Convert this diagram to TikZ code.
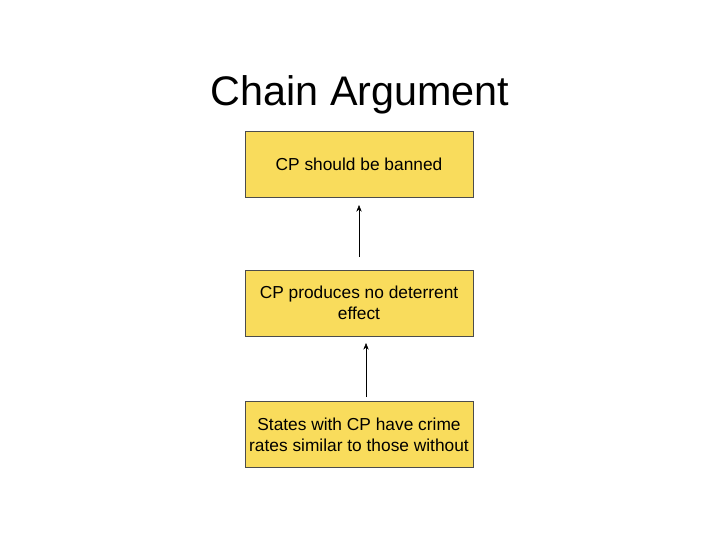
\documentclass[tikz,border=0pt]{standalone}
\usepackage{fontspec}
\setmainfont{Liberation Sans}
\usetikzlibrary{arrows.meta,positioning}
\definecolor{boxyellow}{HTML}{F9DC5C}
\tikzset{
    claim/.style={draw=black!70, fill=boxyellow, minimum width=228*0.75pt,
        minimum height=66*0.75pt, align=center, font=\fontsize{13}{16}\selectfont,
        inner sep=0pt},
    link/.style={-{Stealth[length=5pt,width=4pt]}, thin}
}
\begin{document}
\begin{tikzpicture}[x=0.75pt,y=-0.75pt]
\useasboundingbox (0,0) rectangle (720,540);
\node[font=\fontsize{31}{36}\selectfont] (title) at (360,95) {Chain Argument};

\node[claim] (top) at (359,164.5) {CP should be banned};
\node[claim] (mid) at (359,303) {CP produces no deterrent\\effect};
\node[claim] (low) at (359,434.5) {States with CP have crime\\rates similar to those without};

\coordinate (a1) at (359,257);
\coordinate (a2) at (366,397);
\draw[link] (a1) -- (a1 |- 0,205);
\draw[link] (a2) -- (a2 |- 0,343);
\end{tikzpicture}
\end{document}
